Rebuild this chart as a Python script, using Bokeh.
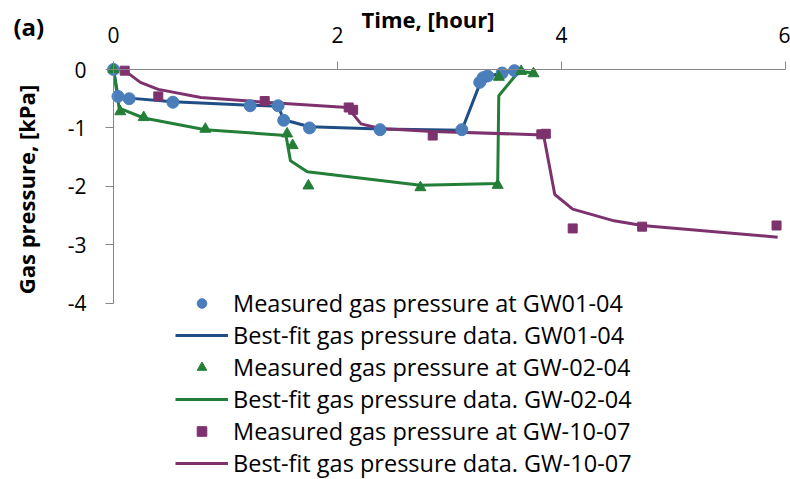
from bokeh.plotting import figure
from bokeh.models import (FixedTicker, Legend, LegendItem, Label, LinearAxis, Range1d)
from bokeh.embed import file_html
from bokeh.resources import INLINE

# Gas pressure records (time in hours, pressure in kPa)
t_gw01_meas = [0.00, 0.04, 0.14, 0.53, 1.22, 1.47, 1.52, 1.75, 2.38, 3.11, 3.27, 3.30, 3.34, 3.47, 3.58]
p_gw01_meas = [0.00, -0.46, -0.50, -0.56, -0.62, -0.62, -0.87, -1.00, -1.03, -1.03, -0.22, -0.14, -0.11, -0.06, -0.02]
t_gw01_fit = [0.00, 0.04, 0.14, 0.53, 1.22, 1.47, 1.52, 1.75, 2.38, 3.11, 3.27, 3.34, 3.47, 3.58]
p_gw01_fit = [0.00, -0.45, -0.49, -0.55, -0.61, -0.63, -0.86, -0.98, -1.02, -1.04, -0.25, -0.12, -0.06, -0.02]

t_gw02_meas = [0.00, 0.06, 0.27, 0.82, 1.55, 1.60, 1.74, 2.74, 3.43, 3.44, 3.64, 3.75]
p_gw02_meas = [0.00, -0.72, -0.82, -1.02, -1.10, -1.30, -1.99, -2.02, -1.98, -0.13, -0.03, -0.07]
t_gw02_fit = [0.00, 0.05, 0.27, 0.82, 1.54, 1.58, 1.73, 2.74, 3.43, 3.44, 3.62, 3.75]
p_gw02_fit = [0.00, -0.66, -0.83, -1.03, -1.13, -1.56, -1.75, -1.98, -1.95, -0.45, -0.03, -0.06]

t_gw10_meas = [0.10, 0.40, 1.35, 2.10, 2.14, 2.85, 3.82, 3.86, 4.10, 4.72, 5.92]
p_gw10_meas = [-0.02, -0.46, -0.54, -0.65, -0.69, -1.13, -1.11, -1.10, -2.72, -2.69, -2.67]
t_gw10_fit = [0.10, 0.24, 0.40, 0.78, 1.35, 2.09, 2.15, 2.21, 2.38, 2.85, 3.84, 3.94, 4.10, 4.47, 4.72, 5.93]
p_gw10_fit = [-0.02, -0.22, -0.34, -0.48, -0.56, -0.65, -0.79, -0.93, -1.01, -1.06, -1.12, -2.14, -2.39, -2.59, -2.67, -2.87]

x_ticks = [0, 2, 4, 6]
y_ticks = [0, -1, -2, -3, -4]

labels = [
    "Measured gas pressure at GW01-04",
    "Best-fit gas pressure data. GW01-04",
    "Measured gas pressure at GW-02-04",
    "Best-fit gas pressure data. GW-02-04",
    "Measured gas pressure at GW-10-07",
    "Best-fit gas pressure data. GW-10-07",
]

BLUE_PT, BLUE_LN = "#4A7EBB", "#1F4E85"
GREEN = "#237F37"
PURPLE = "#7D326E"
AXIS_GREY = "#868686"
FONT = "Open Sans"

W, H = 790, 479
# pixel placement of the 0..6 h / 0..-4 kPa box inside the canvas
X0_PX, PX_PER_HOUR = 113, 112.0
Y0_PX, PX_PER_KPA = 69, 58.425

x_start = -X0_PX / PX_PER_HOUR
y_end = Y0_PX / PX_PER_KPA
p = figure(width=W, height=H,
           x_range=Range1d(x_start, x_start + W / PX_PER_HOUR),
           y_range=Range1d(y_end - H / PX_PER_KPA, y_end),
           x_axis_location=None, y_axis_location=None,
           output_backend="svg", toolbar_location=None,
           min_border=0)
p.outline_line_color = None
p.grid.visible = False
p.background_fill_color = "white"
p.border_fill_color = "white"

xaxis = LinearAxis(fixed_location=0, bounds=(0, 6))
yaxis = LinearAxis(fixed_location=0, bounds=(-4, 0))
for ax, ticks in ((xaxis, x_ticks), (yaxis, y_ticks)):
    ax.ticker = FixedTicker(ticks=ticks)
    ax.major_label_overrides = {v: str(v) for v in ticks}
    ax.minor_tick_line_color = None
    ax.axis_line_color = AXIS_GREY
    ax.major_tick_line_color = AXIS_GREY
    ax.major_tick_out = 8
    ax.major_tick_in = 0
    ax.major_label_text_font = FONT
    ax.major_label_text_font_size = "21px"
    ax.major_label_text_color = "black"
xaxis.major_label_standoff = 19
yaxis.major_label_standoff = 19
p.add_layout(xaxis, "above")
p.add_layout(yaxis, "left")

# fitted curves
l1 = p.line(t_gw01_fit, p_gw01_fit, line_color=BLUE_LN, line_width=3)
l2 = p.line(t_gw02_fit, p_gw02_fit, line_color=GREEN, line_width=3)
l3 = p.line(t_gw10_fit, p_gw10_fit, line_color=PURPLE, line_width=3)

# measured points
m1 = p.scatter(t_gw01_meas, p_gw01_meas, marker="circle", size=12,
               fill_color=BLUE_PT, line_color=BLUE_PT)
m2 = p.scatter(t_gw02_meas, p_gw02_meas, marker="triangle", size=11,
               fill_color=GREEN, line_color=GREEN)
m3 = p.scatter(t_gw10_meas, p_gw10_meas, marker="square", size=9,
               fill_color=PURPLE, line_color=PURPLE)

legend = Legend(items=[LegendItem(label=lab, renderers=[r]) for lab, r in
                       zip(labels, [m1, l1, m2, l2, m3, l3])],
                location=(175, 0), orientation="vertical",
                label_text_font=FONT, label_text_font_size="23.5px",
                label_text_color="black",
                glyph_width=53, glyph_height=24, label_height=24,
                label_standoff=5, spacing=0, padding=0, margin=0,
                border_line_alpha=0, background_fill_alpha=0)
p.add_layout(legend, "center")

p.add_layout(Label(x=-0.893, y=0.74, text="(a)", text_font=FONT,
                   text_font_style="bold", text_font_size="24px",
                   text_color="black",
                   text_align="left", text_baseline="middle"))
p.add_layout(Label(x=2.808, y=0.856, text="Time, [hour]", text_font=FONT,
                   text_font_style="bold", text_font_size="22px",
                   text_color="black",
                   text_align="center", text_baseline="middle"))
p.add_layout(Label(x=-0.777, y=-2.054, text="Gas pressure, [kPa]", angle=1.5708,
                   text_font=FONT, text_font_style="bold", text_font_size="22px",
                   text_color="black",
                   text_align="center", text_baseline="middle"))

open("out.html", "w").write(file_html(p, INLINE))
